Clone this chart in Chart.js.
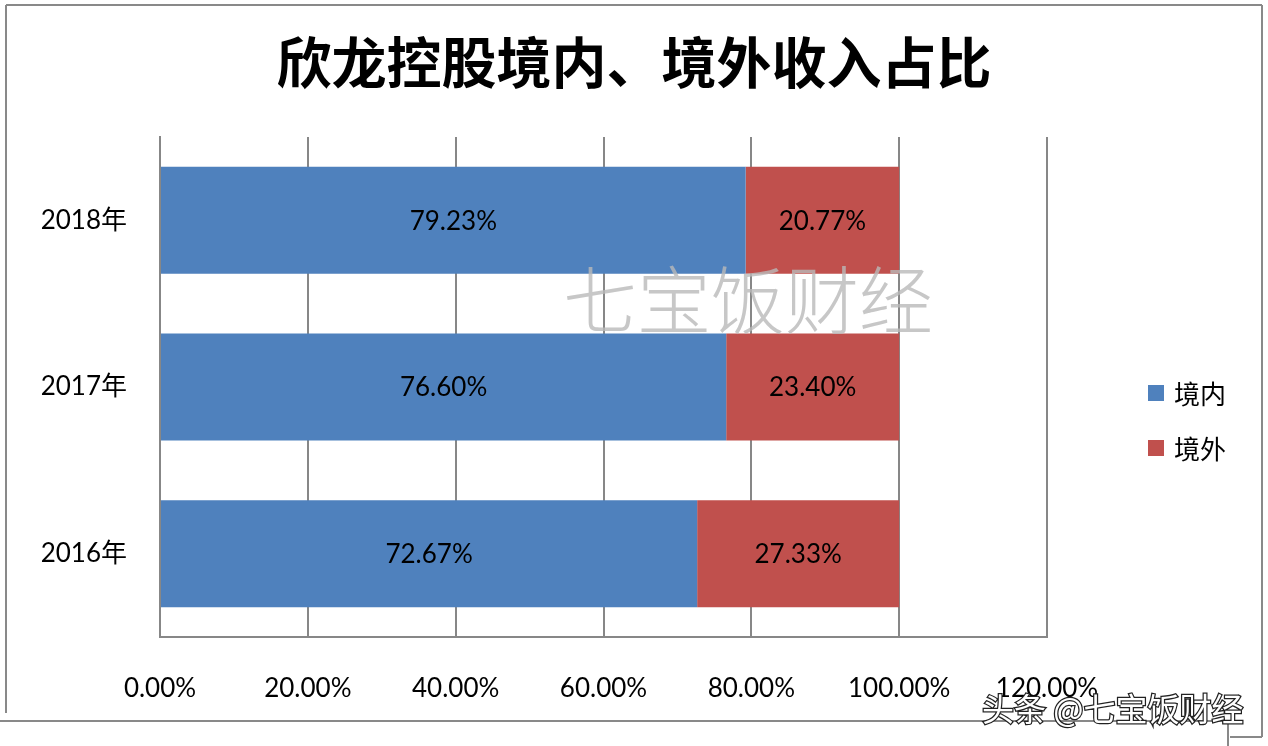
<!DOCTYPE html>
<html>
<head>
    <meta charset="utf-8">
    <title>欣龙控股境内、境外收入占比</title>
    <script src="https://cdn.jsdelivr.net/npm/chart.js"></script>
    <style>
        body { margin: 0; background: #fff; }
        #wrap { width: 1268px; height: 746px; position: relative; }
    </style>
</head>
<body>
    <div id="wrap">
        <canvas id="shareChart" width="1268" height="746"></canvas>
    </div>

    <script>
        // values (percent)
        const years = ['2018年', '2017年', '2016年'];
        const domestic = [79.23, 76.60, 72.67];
        const overseas = [20.77, 23.40, 27.33];
        const seriesNames = ['境内', '境外'];
        const xTicks = [0, 20, 40, 60, 80, 100, 120];

        const numFont = 'Lato, "Noto Sans CJK SC", sans-serif';
        const cjkFont = '"Noto Sans CJK SC", sans-serif';

        // frame, title, legend, watermarks
        const decor = {
            id: 'decor',
            beforeDraw(chart) {
                const c = chart.ctx;
                c.save();
                c.fillStyle = '#fff';
                c.fillRect(0, 0, chart.width, chart.height);
                c.strokeStyle = '#898989';
                c.lineWidth = 2;
                c.beginPath();
                c.moveTo(6, 5); c.lineTo(1262, 5);
                c.moveTo(6, 5); c.lineTo(6, 713);
                c.moveTo(1262, 5); c.lineTo(1262, 737);
                c.moveTo(1262, 737); c.lineTo(1230, 737);
                c.moveTo(0, 721); c.lineTo(1228, 721);
                c.moveTo(1228, 721); c.lineTo(1228, 746);
                c.stroke();

                c.fillStyle = '#000';
                c.font = 'bold 55px ' + cjkFont;
                c.textAlign = 'center';
                c.textBaseline = 'middle';
                c.fillText('欣龙控股境内、境外收入占比', 634, 62);
                c.restore();
            },
            afterDatasetsDraw(chart) {
                const c = chart.ctx;
                c.save();
                // segment labels
                c.font = '26px ' + numFont;
                c.fillStyle = '#000';
                c.textAlign = 'center';
                c.textBaseline = 'middle';
                chart.data.datasets.forEach((ds, i) => {
                    chart.getDatasetMeta(i).data.forEach((bar, j) => {
                        const p = bar.getProps(['x', 'y', 'base'], true);
                        c.fillText(ds.data[j].toFixed(2) + '%', (p.x + p.base) / 2, p.y + 1);
                    });
                });

                // legend
                c.textAlign = 'left';
                c.font = '26px ' + cjkFont;
                chart.data.datasets.forEach((ds, i) => {
                    const y = 393 + i * 55;
                    c.fillStyle = ds.backgroundColor;
                    c.fillRect(1148, y - 8, 16, 16);
                    c.fillStyle = '#000';
                    c.fillText(ds.label, 1174, y + 1);
                });

                // watermark
                c.font = '300 74px ' + cjkFont;
                c.fillStyle = 'rgba(185,185,185,0.8)';
                c.textAlign = 'center';
                c.fillText('七宝饭财经', 748, 300);

                // source stamp
                c.font = '32px ' + cjkFont;
                c.textAlign = 'left';
                c.lineWidth = 2.5;
                c.strokeStyle = '#222';
                c.strokeText('头条 @七宝饭财经', 982, 709);
                c.fillStyle = '#fff';
                c.fillText('头条 @七宝饭财经', 982, 709);
                c.restore();
            }
        };

        const ctx = document.getElementById('shareChart').getContext('2d');
        new Chart(ctx, {
            type: 'bar',
            data: {
                labels: years,
                datasets: [{
                    label: seriesNames[0],
                    data: domestic,
                    backgroundColor: '#4F81BD',
                    barPercentage: 0.642,
                    categoryPercentage: 1
                }, {
                    label: seriesNames[1],
                    data: overseas,
                    backgroundColor: '#C0504D',
                    barPercentage: 0.642,
                    categoryPercentage: 1
                }]
            },
            options: {
                indexAxis: 'y',
                responsive: false,
                animation: false,
                layout: { padding: { top: 137, right: 221, left: 0, bottom: 0 } },
                plugins: {
                    legend: { display: false },
                    title: { display: false },
                    tooltip: { enabled: false }
                },
                scales: {
                    x: {
                        stacked: true,
                        min: 0,
                        max: 120,
                        afterBuildTicks(axis) {
                            axis.ticks = xTicks.map(v => ({ value: v }));
                        },
                        afterFit(axis) { axis.height = 109; },
                        grid: { color: '#878787', lineWidth: 2, drawTicks: false },
                        border: { display: true, color: '#878787', width: 2 },
                        ticks: {
                            padding: 36,
                            color: '#000',
                            font: { family: numFont, size: 26 },
                            callback: v => v.toFixed(2) + '%'
                        }
                    },
                    y: {
                        stacked: true,
                        afterFit(axis) { axis.width = 160; },
                        grid: { display: false, drawTicks: false },
                        border: { display: true, color: '#878787', width: 2 },
                        ticks: {
                            padding: 33,
                            color: '#000',
                            font: { family: numFont, size: 26 }
                        }
                    }
                }
            },
            plugins: [decor]
        });
    </script>
</body>
</html>
